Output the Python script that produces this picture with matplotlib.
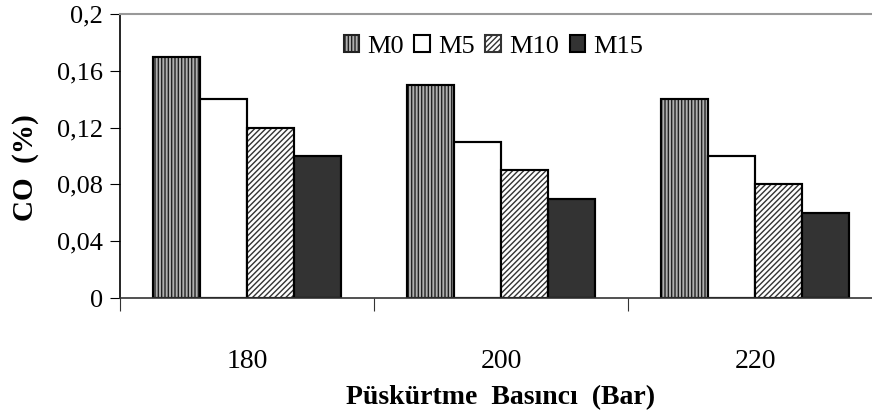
import numpy as np
import matplotlib
matplotlib.use('Agg')
import matplotlib.pyplot as plt

plt.rcParams['font.family'] = ['Liberation Serif', 'DejaVu Serif']
plt.rcParams['hatch.linewidth'] = 1.0

# veriler
basinc = ['180', '200', '220']
seriler = ['M0', 'M5', 'M10', 'M15']
M0 = [0.17, 0.15, 0.14]
M5 = [0.14, 0.11, 0.10]
M10 = [0.12, 0.09, 0.08]
M15 = [0.10, 0.07, 0.06]
y_ticks = [0, 0.04, 0.08, 0.12, 0.16, 0.2]
y_labels = ['0', '0,04', '0,08', '0,12', '0,16', '0,2']

fig = plt.figure(figsize=(8.72, 4.19), dpi=100)
ax = fig.add_axes([120 / 872, 1 - 298 / 419, 762 / 872, 284 / 419])

x = np.arange(len(basinc))
w = 0.185
stiller = [
    dict(facecolor='#b0b0b0', hatch='|||||', edgecolor='#222222'),
    dict(facecolor='white', edgecolor='black'),
    dict(facecolor='white', hatch='//////', edgecolor='#333333'),
    dict(facecolor='#333333', edgecolor='black'),
]
for i, (ad, vals) in enumerate(zip(seriler, [M0, M5, M10, M15])):
    ax.bar(x + (i - 1.5) * w, vals, w, label=ad, linewidth=1.5, **stiller[i])
    # kenar cizgisi siyah olsun
    ax.bar(x + (i - 1.5) * w, vals, w, facecolor='none', edgecolor='black', linewidth=1.5)

ax.set_xlim(-0.5, 2.5)
ax.set_ylim(0, 0.2)
ax.set_yticks(y_ticks)
ax.set_yticklabels(y_labels, fontsize=19)
ax.set_xticks([-0.5, 0.5, 1.5, 2.5])
ax.set_xticklabels([])
ax.set_xticks(x, minor=True)
ax.set_xticklabels(basinc, minor=True, fontsize=20)
ax.tick_params(axis='x', which='minor', length=0, pad=37)
ax.tick_params(axis='x', which='major', length=9, direction='out', color='#333333')
ax.tick_params(axis='y', length=7, direction='out', pad=5)

ax.spines['right'].set_visible(False)
ax.spines['top'].set_color('#999999')
ax.spines['top'].set_linewidth(1.5)
ax.spines['left'].set_linewidth(1.2)
ax.spines['bottom'].set_color('#333333')
ax.spines['bottom'].set_linewidth(1.2)

ax.set_ylabel('CO  (%)', fontsize=21, fontweight='bold')
ax.yaxis.set_label_coords(-0.106, 0.46)
ax.set_xlabel('Püskürtme  Basıncı  (Bar)', fontsize=20, fontweight='bold', labelpad=8)

ax.legend(loc='center', bbox_to_anchor=(0.49, 0.885), ncol=4, frameon=False,
          fontsize=19, handlelength=0.6, handleheight=0.6, handletextpad=0.3,
          columnspacing=0.4, borderpad=0)

fig.savefig('out.png', dpi=100)
